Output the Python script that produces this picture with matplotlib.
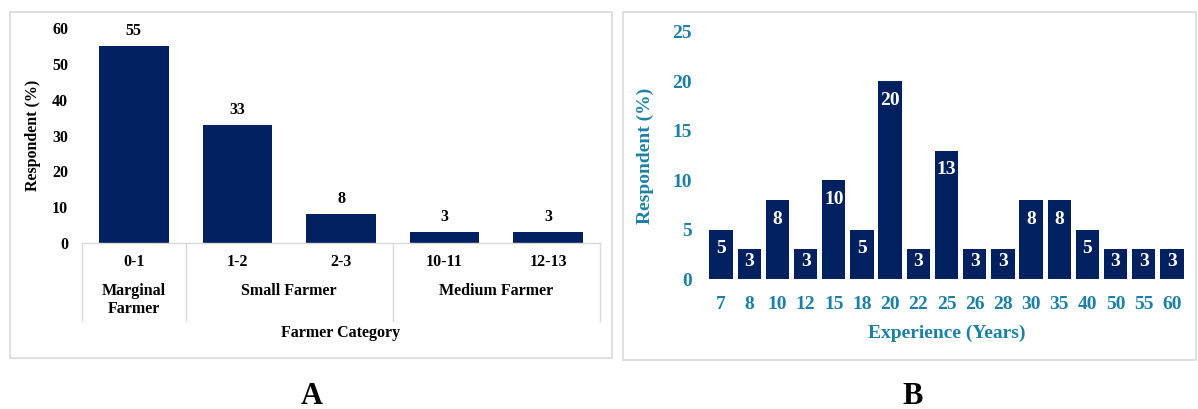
import matplotlib.pyplot as plt
from matplotlib.patches import Rectangle
from matplotlib.lines import Line2D

# Panel A: farm size classes
land_sizes = ["0-1", "1-2", "2-3", "10-11", "12-13"]
land_share = [55, 33, 8, 3, 3]
farmer_groups = ["Marginal\nFarmer", "Small Farmer", "Medium Farmer"]
group_spans = [(0, 1), (1, 3), (3, 5)]

# Panel B: years of farming experience
experience_years = ["7", "8", "10", "12", "15", "18", "20", "22", "25",
                    "26", "28", "30", "35", "40", "50", "55", "60"]
experience_share = [5, 3, 8, 3, 10, 5, 20, 3, 13, 3, 3, 8, 8, 5, 3, 3, 3]

NAVY = "#002060"
TEAL = "#1c80a6"
FRAME = "#d9d9d9"

plt.rcParams["font.family"] = ["Liberation Serif", "DejaVu Serif"]
plt.rcParams["font.weight"] = "bold"

W, H = 1198, 409
fig = plt.figure(figsize=(W / 100, H / 100), dpi=100)


def px_box(x0, y0, x1, y1):
    # pixel box (top-left origin) -> figure fraction rect
    return [x0 / W, 1 - y1 / H, (x1 - x0) / W, (y1 - y0) / H]


# outer panel frames
for x0, y0, x1, y1 in [(10, 12, 612, 358), (623, 12, 1196, 360)]:
    fig.patches.append(Rectangle((x0 / W, 1 - y1 / H), (x1 - x0) / W, (y1 - y0) / H,
                                 transform=fig.transFigure, fill=False,
                                 edgecolor=FRAME, linewidth=1.2))

# ---------------- Panel A ----------------
FA = 11.5
axA = fig.add_axes(px_box(82, 28, 600, 243))
xa = range(len(land_sizes))
axA.bar(xa, land_share, width=0.67, color=NAVY)
for x, v in zip(xa, land_share):
    axA.annotate(f"{v}", (x, v), xytext=(0, 5), textcoords="offset points",
                 ha="center", va="bottom", fontsize=FA, fontweight="bold")
axA.set_xlim(-0.5, len(land_sizes) - 0.5)
axA.set_ylim(0, 60)
axA.set_yticks(range(0, 61, 10))
axA.tick_params(axis="y", length=0, labelsize=FA, pad=10)
axA.set_xticks([])
for s in axA.spines.values():
    s.set_visible(False)
axA.set_ylabel("Respondent (%)", fontsize=FA, fontweight="bold", labelpad=8)

# category table under the axis
trans = axA.get_xaxis_transform()
axA.add_line(Line2D([-0.5, len(land_sizes) - 0.5], [0, 0], transform=trans,
                    color=FRAME, linewidth=1, clip_on=False))
px = 215.0  # axes height in pixels
for b in [-0.5, 0.5, 2.5, 4.5]:
    axA.add_line(Line2D([b, b], [0, -78 / px], transform=trans,
                        color=FRAME, linewidth=1, clip_on=False))
for x, lab in zip(xa, land_sizes):
    axA.text(x, -19 / px, lab, transform=trans, ha="center", va="center",
             fontsize=FA, fontweight="bold")
for lab, (a, b) in zip(farmer_groups, group_spans):
    axA.text((a + b - 1) / 2, -40 / px, lab, transform=trans, ha="center",
             va="top", fontsize=FA, fontweight="bold", linespacing=1.2)
axA.text(0.5, -90 / px, "Farmer Category", transform=axA.transAxes,
         ha="center", va="center", fontsize=FA, fontweight="bold")

# ---------------- Panel B ----------------
FB = 14
axB = fig.add_axes(px_box(707, 32, 1186, 279))
xb = range(len(experience_years))
axB.bar(xb, experience_share, width=0.83, color=NAVY)
for x, v in zip(xb, experience_share):
    y = max(v - 1.95, 1.8)
    axB.text(x, y, f"{v}", ha="center", va="center", color="white",
             fontsize=FB, fontweight="bold")
axB.set_xlim(-0.5, len(experience_years) - 0.5)
axB.set_ylim(0, 25)
axB.set_yticks(range(0, 26, 5))
axB.set_xticks(list(xb))
axB.set_xticklabels(experience_years)
axB.tick_params(axis="both", length=0, labelsize=FB, labelcolor=TEAL)
axB.tick_params(axis="y", pad=11)
axB.tick_params(axis="x", pad=12)
for s in axB.spines.values():
    s.set_visible(False)
axB.set_ylabel("Respondent (%)", fontsize=FB, fontweight="bold",
               color=TEAL, labelpad=13)
axB.set_xlabel("Experience (Years)", fontsize=FB, fontweight="bold",
               color=TEAL, labelpad=9)

# panel letters
fig.text(312 / W, 1 - 396 / H, "A", ha="center", va="center",
         fontsize=22, fontweight="bold")
fig.text(913 / W, 1 - 396 / H, "B", ha="center", va="center",
         fontsize=22, fontweight="bold")

fig.savefig("out.png", dpi=100)
